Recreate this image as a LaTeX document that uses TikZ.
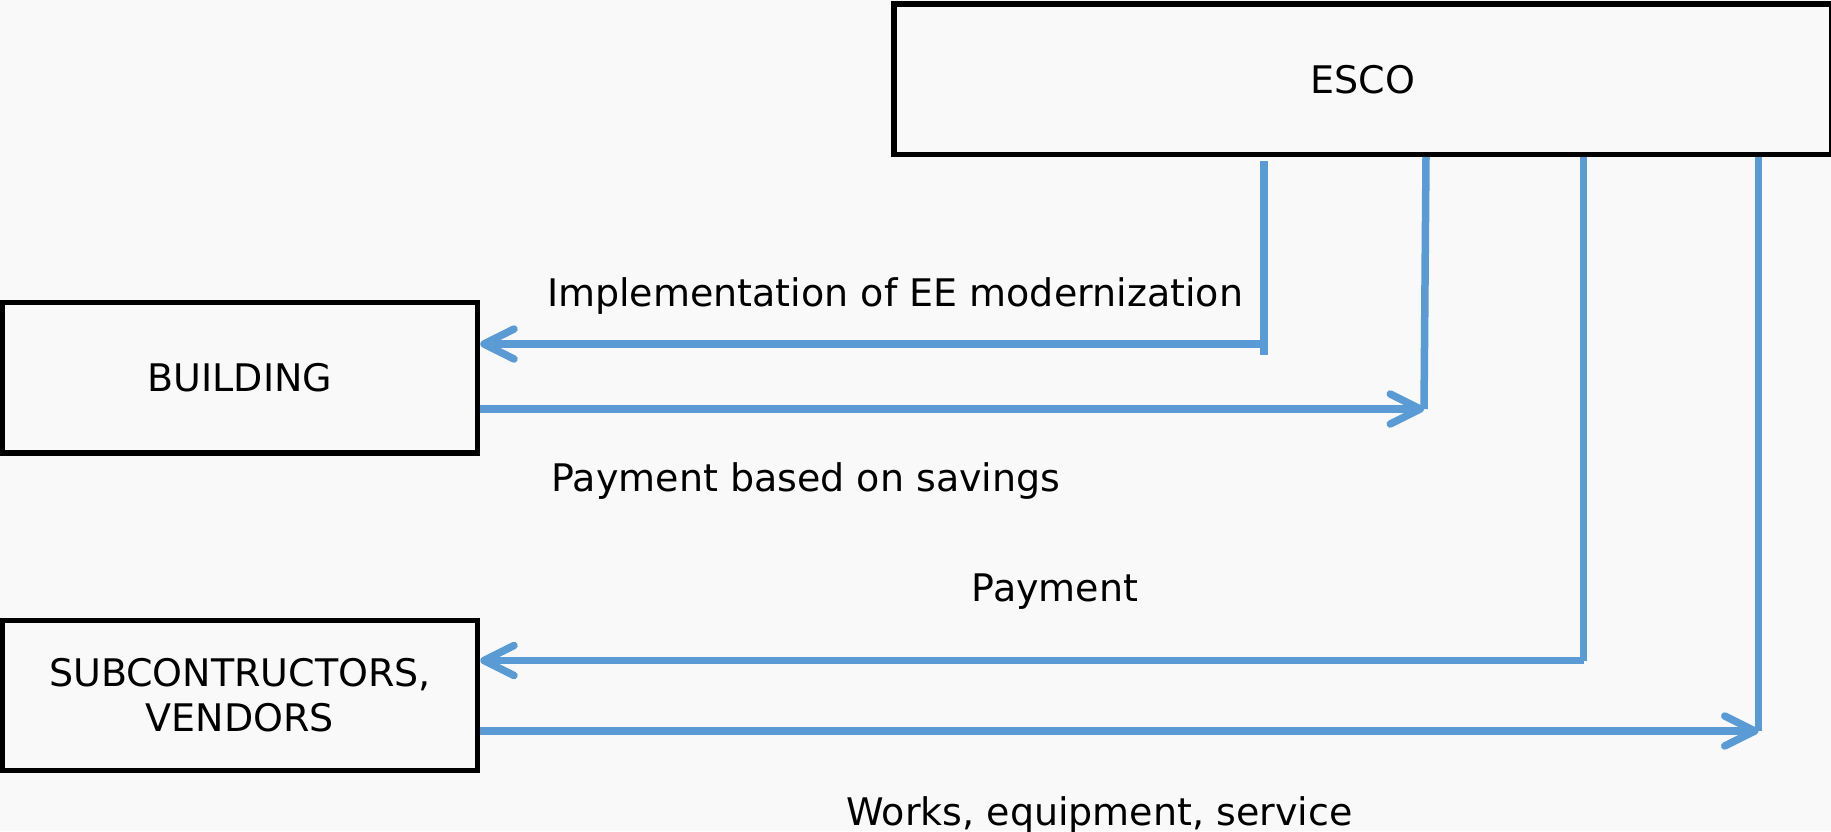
\documentclass[tikz,border=0pt]{standalone}
\usepackage{fontspec}
\setmainfont{DejaVu Sans}
\usetikzlibrary{arrows.meta}
\definecolor{bgc}{HTML}{F9F9F9}
\definecolor{flow}{HTML}{5B9BD5}
\begin{document}
\begin{tikzpicture}[x=1pt,y=-1pt,
  txt/.style={font=\fontsize{38}{45}\selectfont},
  box/.style={draw=black,line width=5.5pt,fill=bgc,inner sep=0pt,align=center,txt},
  flowline/.style={draw=flow,line width=7.5pt},
  flowarrow/.style={flowline,-{Straight Barb[length=30pt,width=30pt,round]}},
  lbl/.style={txt,inner sep=0pt,anchor=base}]
\fill[bgc] (0,0) rectangle (1831,831);
\useasboundingbox (0,0) rectangle (1831,831);
% boxes
\node[box,minimum width=937.5pt,minimum height=150.5pt] (esco) at (1362.75,79.25) {ESCO};
\node[box,minimum width=475pt,minimum height=150.5pt] (bldg) at (240,377.75) {BUILDING};
\node[box,minimum width=475pt,minimum height=150pt] (sub) at (240,695.5) {SUBCONTRUCTORS,\\VENDORS};
% labels
\node[lbl] (limpl) at (895,306) {Implementation of EE modernization};
\node[lbl] (lsav) at (806,491) {Payment based on savings};
\node[lbl] (lpay) at (1055,601) {Payment};
\node[lbl] (lwork) at (1099.5,825) {Works, equipment, service};
% connector points
\coordinate (a1) at (1264,161);
\coordinate (a2) at (1264,355);
\coordinate (a3) at (1264,344);
\coordinate (b1) at (1426,157);
\coordinate (b2) at (1424,409);
\coordinate (c2) at (1583.5,660.5);
\coordinate (d2) at (1758.5,731);
% connectors
\draw[flowline] (a1) -- (a2);
\draw[flowarrow] (a3) -- (bldg.east |- a3);
\draw[flowline] (b1) -- (b2);
\draw[flowarrow] (bldg.east |- b2) -- (b2);
\draw[flowline] (esco.south -| c2) -- (c2);
\draw[flowarrow] (c2) -- (sub.east |- c2);
\draw[flowline] (esco.south -| d2) -- (d2);
\draw[flowarrow] (sub.east |- d2) -- (d2);
\end{tikzpicture}
\end{document}
